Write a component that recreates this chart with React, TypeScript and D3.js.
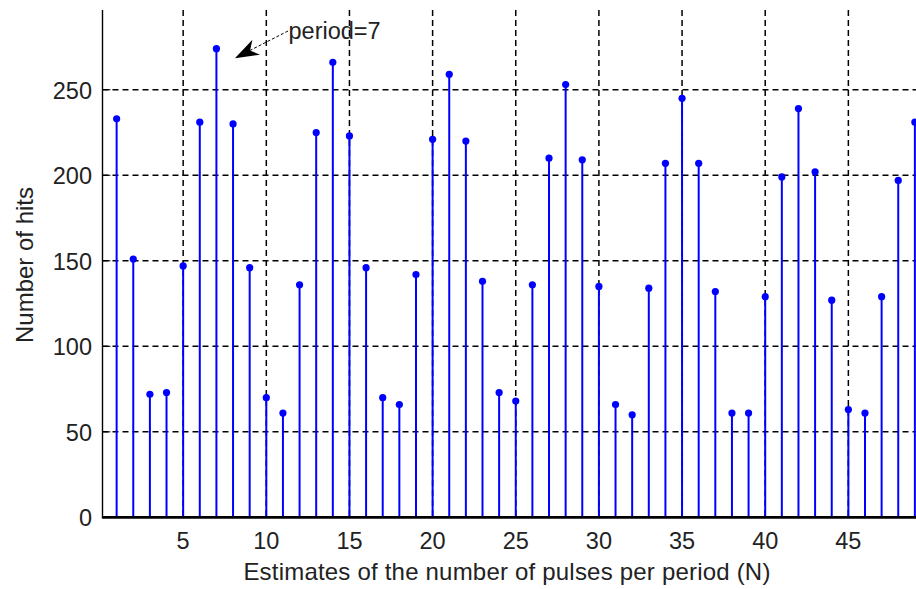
import React from "react";
import * as d3 from "d3";

// Hit counts for each candidate number of pulses per period
const periods: number[] = d3.range(1, 50);
const hits: number[] = [
  233, 151, 72, 73, 147, 231, 274, 230, 146, 70,
  61, 136, 225, 266, 223, 146, 70, 66, 142, 221,
  259, 220, 138, 73, 68, 136, 210, 253, 209, 135,
  66, 60, 134, 207, 245, 207, 132, 61, 61, 129,
  199, 239, 202, 127, 63, 61, 129, 197, 231,
];
const xTicks: number[] = [5, 10, 15, 20, 25, 30, 35, 40, 45];
const yTicks: number[] = [0, 50, 100, 150, 200, 250];
const xLabel = "Estimates of the number of pulses per period (N)";
const yLabel = "Number of hits";
const noteText = "period=7";
const notePeriod = 7;

const W = 916;
const H = 589;
const left = 102.5;
const top = 10;
const bottom = 517.4;
const font = "'Liberation Sans', Arial, Helvetica, sans-serif";
const ink = "#222";
const blue = "#0000ff";

export default function App() {
  const x = d3.scaleLinear().domain([0.15, 50]).range([left, left + 49.85 * 16.63]);
  const y = d3.scaleLinear().domain([0, 296.6]).range([bottom, top]);
  const right = x(50);

  // annotation arrow geometry
  const peak = hits[periods.indexOf(notePeriod)];
  const tipX = x(notePeriod) + 18.5;
  const tipY = y(peak) + 9.5;
  const tailX = 288;
  const tailY = 31;
  const dx = tailX - tipX;
  const dy = tailY - tipY;
  const len = Math.hypot(dx, dy);
  const ux = dx / len;
  const uy = dy / len;
  const px = -uy;
  const py = ux;
  const headLen = 24;
  const headHalf = 8.5;
  const notch = 17;
  const wing1 = [tipX + ux * headLen + px * headHalf, tipY + uy * headLen + py * headHalf];
  const wing2 = [tipX + ux * headLen - px * headHalf, tipY + uy * headLen - py * headHalf];
  const notchPt = [tipX + ux * notch, tipY + uy * notch];
  const head = `M${tipX},${tipY}L${wing1[0]},${wing1[1]}L${notchPt[0]},${notchPt[1]}L${wing2[0]},${wing2[1]}Z`;

  return (
    <svg
      width={W}
      height={H}
      style={{ position: "absolute", left: 0, top: 0, background: "#fff" }}
      fontFamily={font}
    >
      <rect x={0} y={0} width={W} height={H} fill="#fff" />
      {/* grid */}
      <g stroke="#000" strokeWidth={1.5} strokeDasharray="6,4">
        {xTicks.map((t) => (
          <line key={"gx" + t} x1={x(t)} x2={x(t)} y1={top} y2={bottom} />
        ))}
        {yTicks.filter((t) => t > 0).map((t) => (
          <line key={"gy" + t} x1={left} x2={right} y1={y(t)} y2={y(t)} />
        ))}
      </g>
      {/* tick marks */}
      <g stroke="#000" strokeWidth={1}>
        {yTicks.map((t) => (
          <line key={"ty" + t} x1={left} x2={left + 8} y1={y(t)} y2={y(t)} />
        ))}
        {xTicks.map((t) => (
          <line key={"tx" + t} x1={x(t)} x2={x(t)} y1={bottom} y2={bottom - 8} />
        ))}
      </g>
      {/* stems */}
      <g>
        {periods.map((p, i) => (
          <line
            key={"s" + p}
            x1={x(p)}
            x2={x(p)}
            y1={y(0)}
            y2={y(hits[i])}
            stroke={blue}
            strokeWidth={2}
          />
        ))}
        {periods.map((p, i) => (
          <circle key={"m" + p} cx={x(p)} cy={y(hits[i])} r={3.6} fill={blue} />
        ))}
      </g>
      {/* axes */}
      <line x1={left} x2={left} y1={top} y2={bottom + 1} stroke="#000" strokeWidth={1.4} />
      <line x1={left} x2={W} y1={bottom} y2={bottom} stroke="#000" strokeWidth={2.8} />
      {/* tick labels */}
      <g fill={ink} fontSize={23.5}>
        {yTicks.map((t) => (
          <text key={"ly" + t} x={92} y={y(t) + 9} textAnchor="end">
            {t}
          </text>
        ))}
        {xTicks.map((t) => (
          <text key={"lx" + t} x={x(t)} y={548.5} textAnchor="middle">
            {t}
          </text>
        ))}
      </g>
      {/* axis titles */}
      <text x={507} y={580} textAnchor="middle" fontSize={24} fill={ink} letterSpacing={0.2}>
        {xLabel}
      </text>
      <text
        transform={`translate(33,265) rotate(-90)`}
        textAnchor="middle"
        fontSize={24}
        fill={ink}
      >
        {yLabel}
      </text>
      {/* annotation */}
      <line
        x1={tailX}
        y1={tailY}
        x2={notchPt[0]}
        y2={notchPt[1]}
        stroke="#000"
        strokeWidth={1}
        strokeDasharray="3,2"
      />
      <path d={head} fill="#000" />
      <text x={288.5} y={38.5} fontSize={23.5} fill={ink}>
        {noteText}
      </text>
    </svg>
  );
}
